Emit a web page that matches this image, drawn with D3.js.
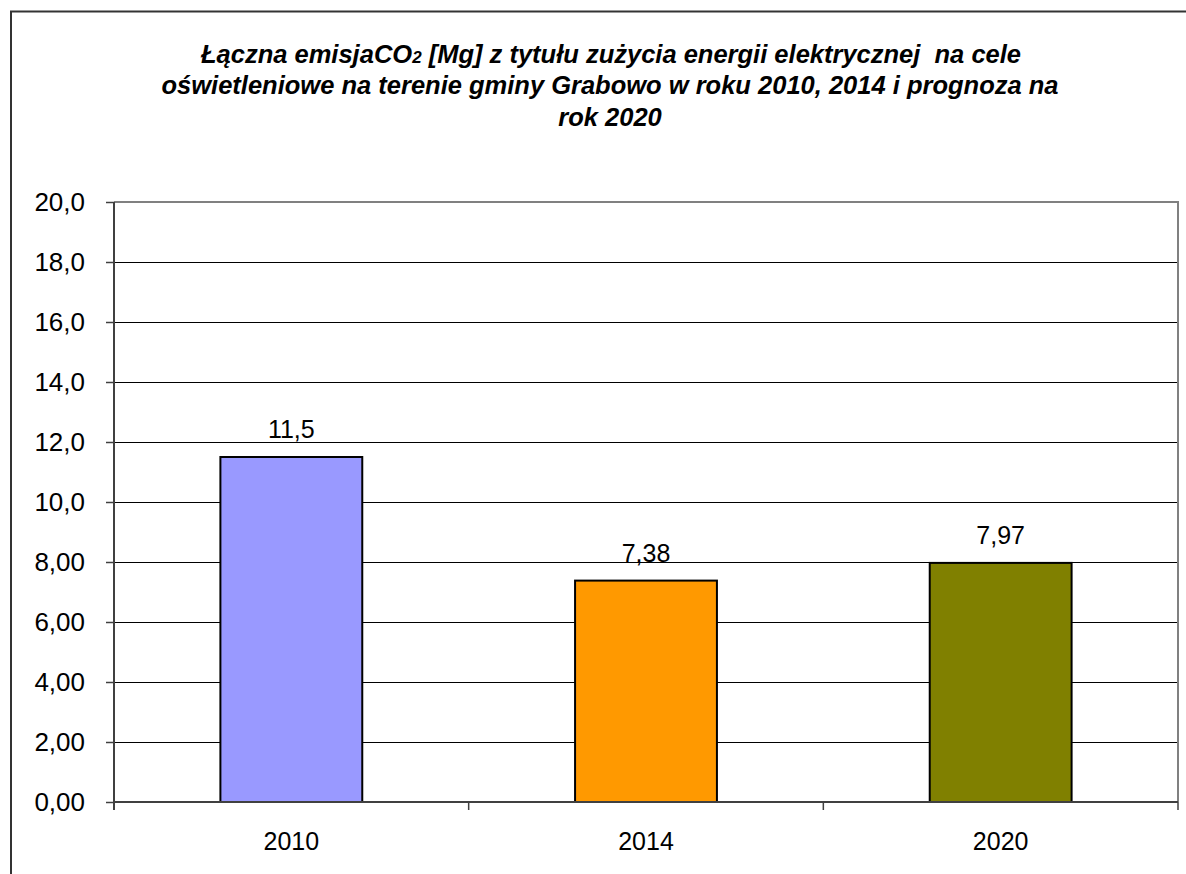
<!DOCTYPE html>
<html>
  <head>
    <meta charset="utf-8">
    <title>Łączna emisja CO2</title>
    <script src="https://d3js.org/d3.v7.min.js"></script>
    <style>
      body { margin: 0; background: #ffffff; }
      text { font-family: "Liberation Sans", Arial, sans-serif; }
    </style>
  </head>
  <body>
    <svg id="canvas" width="1186" height="874"></svg>

    <script>
      // data
      var years = ["2010", "2014", "2020"];
      var emissions = [11.5, 7.38, 7.97];
      var valueLabels = ["11,5", "7,38", "7,97"];
      var barColors = ["#9999ff", "#ff9900", "#808000"];
      var yTicks = [0, 2, 4, 6, 8, 10, 12, 14, 16, 18, 20];

      var svg = d3.select("#canvas");

      // outer frame (only top and left edges visible)
      svg.append("path")
        .attr("d", "M11,874 V11.5 H1186")
        .attr("fill", "none")
        .attr("stroke", "#333333")
        .attr("stroke-width", 2);

      // title
      var title = svg.append("text")
        .attr("text-anchor", "middle")
        .style("font-size", "25.5px")
        .style("font-weight", "bold")
        .style("font-style", "italic")
        .style("white-space", "pre");
      var l1 = title.append("tspan").attr("x", 611).attr("y", 63);
      l1.append("tspan").text("Łączna emisjaCO");
      l1.append("tspan").style("font-size", "17px").text("2");
      l1.append("tspan").text(" [Mg] z tytułu zużycia energii elektrycznej  na cele");
      title.append("tspan").attr("x", 610).attr("y", 94)
        .text("oświetleniowe na terenie gminy Grabowo w roku 2010, 2014 i prognoza na");
      title.append("tspan").attr("x", 610).attr("y", 126).text("rok 2020");

      var plotLeft = 114, plotRight = 1178, plotTop = 202, plotBottom = 802;

      var x = d3.scaleBand().domain(years).range([plotLeft, plotRight]).paddingInner(0.6).paddingOuter(0.3);
      var xOuter = d3.scaleBand().domain(years).range([plotLeft, plotRight]);
      var y = d3.scaleLinear().domain([0, 20]).range([plotBottom, plotTop]);

      function fmt(v) {
        return (v >= 10 ? d3.format(".1f")(v) : d3.format(".2f")(v)).replace(".", ",");
      }

      // gridlines
      svg.append("g")
        .selectAll("line")
        .data(yTicks.filter(function(d){ return d > 0 && d < 20; }))
        .enter()
        .append("line")
        .attr("x1", plotLeft).attr("x2", plotRight)
        .attr("y1", function(d){ return Math.round(y(d)) + 0.5; })
        .attr("y2", function(d){ return Math.round(y(d)) + 0.5; })
        .attr("stroke", "#000000")
        .attr("stroke-width", 1);

      // plot border (top and right, gray)
      svg.append("path")
        .attr("d", "M" + plotLeft + "," + plotTop + " H" + plotRight + " V" + plotBottom)
        .attr("fill", "none")
        .attr("stroke", "#808080")
        .attr("stroke-width", 2);

      // bars
      svg.append("g")
        .selectAll("rect")
        .data(emissions)
        .enter()
        .append("rect")
        .attr("x", function(d, i){ return x(years[i]); })
        .attr("y", function(d){ return y(d); })
        .attr("width", x.bandwidth())
        .attr("height", function(d){ return plotBottom - y(d); })
        .attr("fill", function(d, i){ return barColors[i]; })
        .attr("stroke", "#000000")
        .attr("stroke-width", 2);

      // value labels
      svg.append("g")
        .selectAll("text")
        .data(emissions)
        .enter()
        .append("text")
        .attr("x", function(d, i){ return x(years[i]) + x.bandwidth() / 2; })
        .attr("y", function(d){ return y(d) - 19; })
        .attr("text-anchor", "middle")
        .style("font-size", "25px")
        .style("fill", "#000000")
        .text(function(d, i){ return valueLabels[i]; });

      // y axis
      var yAxis = svg.append("g")
        .attr("transform", "translate(" + plotLeft + ",0)")
        .call(d3.axisLeft(y).tickValues(yTicks).tickSize(8).tickPadding(21).tickFormat(fmt));
      yAxis.select(".domain").attr("stroke", "#404040").attr("stroke-width", 2)
        .attr("d", "M0," + plotTop + "V" + (plotBottom + 8));
      yAxis.selectAll(".tick line").attr("stroke", "#404040").attr("stroke-width", 1.5);
      yAxis.selectAll(".tick text")
        .style("font-size", "26px")
        .style("font-family", "'Liberation Sans', Arial, sans-serif")
        .attr("fill", "#000000");

      // x axis
      var xAxis = svg.append("g")
        .attr("transform", "translate(0," + plotBottom + ")")
        .call(d3.axisBottom(xOuter).tickSize(0).tickPadding(30));
      xAxis.select(".domain").attr("stroke", "#404040").attr("stroke-width", 2)
        .attr("d", "M" + plotLeft + ",0H" + plotRight);
      xAxis.selectAll(".tick text")
        .style("font-size", "25px")
        .style("font-family", "'Liberation Sans', Arial, sans-serif")
        .attr("fill", "#000000");

      // x axis tick marks at category boundaries
      var bounds = years.map(function(d){ return xOuter(d); }).concat([plotRight]);
      xAxis.append("g")
        .selectAll("line")
        .data(bounds)
        .enter()
        .append("line")
        .attr("x1", function(d){ return d; })
        .attr("x2", function(d){ return d; })
        .attr("y1", 0).attr("y2", 8)
        .attr("stroke", "#404040")
        .attr("stroke-width", 1.5);
    </script>
  </body>
</html>
